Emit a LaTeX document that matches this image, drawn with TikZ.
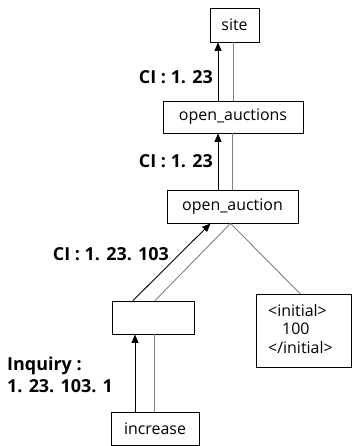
\documentclass[tikz,border=0pt]{standalone}
\usepackage{fontspec}
\setmainfont{Open Sans}
\usetikzlibrary{arrows.meta}
\begin{document}
\begin{tikzpicture}[x=1bp,y=-1bp,
  box/.style={draw=black,line width=0.9bp,inner sep=0pt,font=\fontsize{16}{19}\selectfont},
  arr/.style={draw=black,line width=0.9bp,-{Triangle[length=8.5bp,width=7bp]}},
  gl/.style={draw=black!50,line width=0.9bp},
  lab/.style={font=\bfseries\fontsize{18}{22}\selectfont,inner sep=0pt}]
\useasboundingbox (0,0) rectangle (352,446);
\node[box,minimum width=49bp,minimum height=34bp] (site) at (234.5,25) {site};
\node[box,minimum width=140bp,minimum height=32bp] (oas) at (233,117) {open\_auctions};
\node[box,minimum width=131bp,minimum height=33bp] (oa) at (232.5,206.5) {open\_auction};
\node[box,minimum width=95bp,minimum height=73bp,anchor=north west] (ini) at (256,294) {};
\node[anchor=west,inner sep=0pt,font=\fontsize{16}{19}\selectfont,align=left] (initext) at (268,329) {<initial>\\\hspace*{14bp}100\\</initial>};
\node[box,minimum width=82bp,minimum height=33bp] (emp) at (153,317.5) {};
\node[box,minimum width=88bp,minimum height=33bp] (inc) at (155,428.5) {increase};
% connectors
\draw[arr] ([xshift=-15bp]oas.north) -- ([xshift=-15bp]oas.north |- site.south);
\draw[gl] (oas.north) -- (oas.north |- site.south);
\draw[arr] ([xshift=-14.5bp]oa.north) -- ([xshift=-14.5bp]oa.north |- oas.south);
\draw[gl] (oa.north) -- (oa.north |- oas.south);
\draw[arr] ([xshift=-20bp]emp.north) -- ([xshift=-22bp]oa.south);
\draw[gl] ([xshift=2bp]emp.north) -- ([xshift=-2bp]oa.south);
\draw[gl] ([xshift=-2bp]oa.south) -- (ini.north -| initext.center);
\draw[arr] ([xshift=-20bp]inc.north) -- ([xshift=-20bp]inc.north |- emp.south);
\draw[gl] ([xshift=-1bp]inc.north) -- ([xshift=-1bp]inc.north |- emp.south);
% labels
\node[lab,anchor=east] (l1) at (213,77) {CI : 1. 23};
\node[lab,anchor=east] (l2) at (213,161) {CI : 1. 23};
\node[lab,anchor=east] (l3) at (169,254) {CI : 1. 23. 103};
\node[lab,anchor=west,align=left] (l4) at (7,375) {Inquiry :\\1. 23. 103. 1};
\end{tikzpicture}
\end{document}
